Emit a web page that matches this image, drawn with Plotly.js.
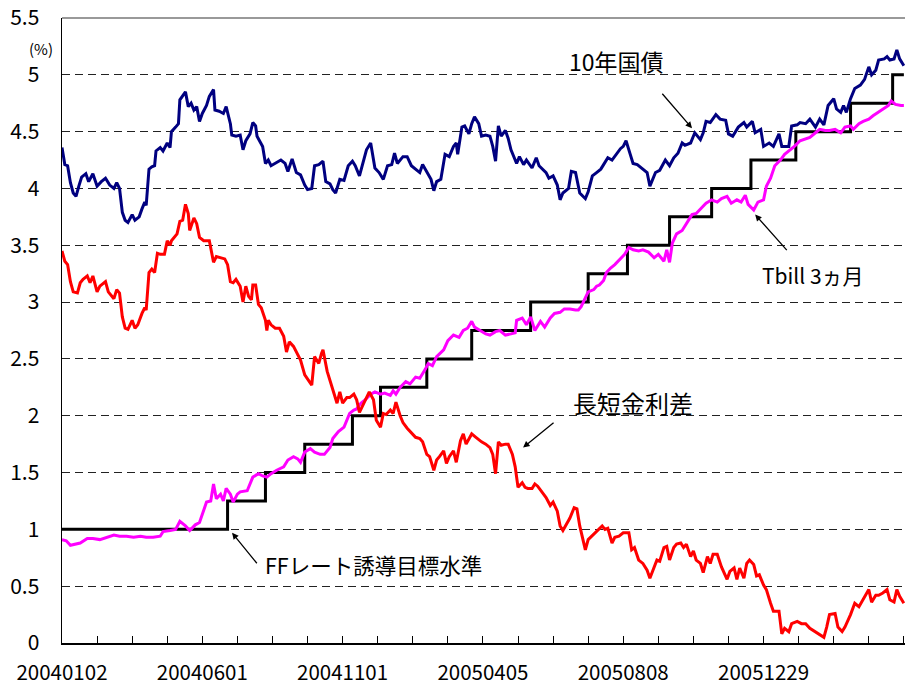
<!DOCTYPE html>
<html>
<head>
<meta charset="utf-8">
<script src="https://cdn.plot.ly/plotly-3.0.1.min.js"></script>
<style>
html,body{margin:0;padding:0;overflow:hidden;background:#fff;}
#chart{width:920px;height:686px;}
</style>
</head>
<body>
<div id="chart"></div>
<script>
// x = trading-day index from 2004-01-02
const tenDays = [0,2,4,6,8,10,12,14,17,19,22,25,28,31,34,37,39,41,43,45,47,50,52,55,57,59,60,62,64,66,67,70,72,75,77,78,81,83,84,86,88,90,92,94,96,98,100,103,105,108,109,112,115,117,120,121,124,127,129,131,134,136,138,139,141,143,145,147,149,152,154,156,159,161,164,165,167,170,173,175,178,180,183,186,188,191,193,195,198,201,204,207,209,212,214,217,220,223,226,229,232,235,237,239,243,246,249,252,255,257,260,263,265,267,270,273,276,279,281,282,285,287,290,292,294,297,299,302,305,307,309,311,313,316,318,320,324,326,329,331,335,338,340,345,347,350,353,355,357,361,363,366,369,373,375,378,381,384,386,389,392,395,398,400,402,405,407,410,414,417,419,423,426,430,433,436,439,442,444,448,451,455,457,459,462,466,469,473,475,478,482,486,488,492,494,498,500,504,507,511,513,516,518,520,524,526,530,533,537,540,543,546,550,552,555,557,559,562,565,569,572,575,577,580,582,586,588,590,593,595,597,600];
const tenYield = [4.36,4.21,4.20,4.05,3.96,3.93,4.02,4.10,4.13,4.06,4.13,4.02,4.06,4.09,4.03,4.00,4.05,4.00,3.79,3.72,3.70,3.77,3.72,3.75,3.82,3.88,3.85,4.17,4.19,4.20,4.33,4.36,4.33,4.40,4.36,4.50,4.54,4.57,4.78,4.81,4.85,4.72,4.75,4.69,4.72,4.59,4.66,4.73,4.81,4.87,4.69,4.68,4.66,4.72,4.57,4.47,4.46,4.47,4.34,4.42,4.48,4.58,4.55,4.46,4.42,4.37,4.22,4.25,4.20,4.22,4.23,4.25,4.22,4.15,4.26,4.22,4.14,4.12,4.03,3.99,4.00,4.20,4.21,4.24,4.06,4.04,3.99,3.96,4.08,4.07,4.20,4.24,4.20,4.11,4.20,4.34,4.40,4.18,4.14,4.08,4.20,4.21,4.31,4.22,4.28,4.28,4.20,4.17,4.14,4.21,4.14,4.08,3.98,4.06,4.08,4.30,4.28,4.37,4.40,4.30,4.54,4.55,4.48,4.57,4.63,4.57,4.46,4.47,4.46,4.37,4.24,4.55,4.46,4.51,4.44,4.34,4.22,4.28,4.21,4.25,4.18,4.27,4.20,4.14,4.09,4.11,4.03,3.90,3.96,4.00,4.15,4.14,3.96,3.91,3.97,4.11,4.14,4.17,4.21,4.27,4.25,4.30,4.35,4.37,4.42,4.30,4.22,4.21,4.17,4.14,4.02,4.14,4.16,4.25,4.20,4.27,4.31,4.40,4.38,4.40,4.49,4.43,4.49,4.59,4.58,4.65,4.61,4.60,4.48,4.46,4.54,4.58,4.54,4.59,4.49,4.52,4.37,4.40,4.37,4.48,4.37,4.37,4.37,4.55,4.56,4.58,4.57,4.61,4.54,4.61,4.56,4.73,4.79,4.70,4.67,4.73,4.67,4.79,4.88,4.91,4.96,5.07,5.00,5.04,5.13,5.14,5.16,5.13,5.14,5.22,5.14,5.08];

const tbDays = [0,3,6,9,13,18,22,27,32,37,41,46,51,56,60,65,70,72,77,81,84,88,91,95,98,101,103,106,108,110,113,115,117,120,122,125,127,132,134,136,140,143,146,149,153,158,161,165,168,170,173,177,180,184,187,191,193,197,201,203,205,208,210,213,216,220,223,227,230,234,236,238,241,245,248,252,255,259,261,264,267,272,275,279,283,286,289,292,294,298,302,305,309,312,316,320,323,324,328,331,334,337,341,344,348,351,355,358,362,366,368,370,373,375,379,381,383,386,388,391,394,398,401,404,407,411,414,418,422,425,429,431,433,435,438,442,445,449,452,456,459,463,467,470,474,477,481,484,487,489,493,496,500,502,505,508,512,515,519,522,526,529,533,537,540,544,547,551,555,558,562,564,568,571,575,578,582,586,589,591,594,598,600];
const tbRate = [0.91,0.90,0.86,0.87,0.88,0.92,0.92,0.91,0.93,0.95,0.94,0.94,0.93,0.94,0.93,0.93,0.94,0.98,0.99,1.00,1.07,1.03,0.99,1.04,1.06,1.16,1.24,1.25,1.40,1.27,1.31,1.25,1.36,1.31,1.24,1.31,1.33,1.34,1.41,1.46,1.49,1.47,1.46,1.49,1.52,1.55,1.61,1.64,1.62,1.59,1.68,1.71,1.68,1.66,1.66,1.72,1.80,1.86,1.90,1.96,2.02,2.05,2.06,2.11,2.14,2.19,2.21,2.19,2.20,2.18,2.22,2.19,2.25,2.30,2.28,2.34,2.33,2.41,2.46,2.44,2.52,2.58,2.66,2.71,2.69,2.75,2.77,2.83,2.78,2.75,2.72,2.71,2.74,2.75,2.71,2.72,2.73,2.84,2.86,2.80,2.87,2.75,2.83,2.78,2.86,2.90,2.91,2.94,2.94,2.93,2.93,2.96,3.03,3.09,3.11,3.14,3.15,3.19,3.26,3.30,3.33,3.38,3.42,3.48,3.46,3.45,3.46,3.44,3.39,3.42,3.36,3.46,3.35,3.52,3.60,3.63,3.69,3.77,3.78,3.83,3.87,3.90,3.88,3.91,3.93,3.87,3.90,3.88,3.94,3.86,3.81,3.88,3.90,4.02,4.09,4.20,4.25,4.30,4.34,4.37,4.42,4.43,4.45,4.49,4.52,4.51,4.51,4.52,4.49,4.54,4.55,4.52,4.57,4.59,4.61,4.64,4.67,4.70,4.73,4.77,4.74,4.73,4.73];

const spDays = [0,2,4,6,8,11,13,15,18,20,22,25,27,31,33,37,39,41,43,45,47,50,52,54,57,59,60,62,64,66,68,70,73,75,77,78,82,84,86,88,90,91,94,96,98,101,105,108,110,113,116,118,120,122,124,127,129,131,133,135,136,138,140,142,145,146,147,149,152,155,158,160,162,165,167,170,173,176,178,180,183,185,186,189,191,193,196,198,200,203,205,208,210,212,215,217,219,222,224,227,229,231,234,236,238,241,243,246,248,252,255,257,260,262,265,267,269,272,274,276,279,281,284,286,288,292,295,299,302,305,307,309,311,313,316,318,321,323,325,328,330,332,335,337,339,342,345,348,350,353,355,357,360,362,365,367,369,371,373,375,379,382,385,387,389,392,394,397,400,404,406,408,411,414,417,419,421,424,426,429,431,433,436,438,441,443,445,448,450,452,455,457,460,462,464,467,470,474,476,479,481,483,486,488,490,493,495,497,500,502,505,507,511,513,515,518,520,524,527,530,533,537,540,543,545,547,551,553,556,558,562,565,568,571,575,577,580,582,585,588,590,593,595,597,600];
const spread = [3.45,3.36,3.33,3.18,3.09,3.08,3.17,3.20,3.23,3.17,3.23,3.09,3.14,3.18,3.09,3.03,3.11,3.08,2.87,2.77,2.76,2.84,2.77,2.80,2.90,2.95,2.93,3.26,3.29,3.26,3.43,3.42,3.42,3.54,3.50,3.54,3.60,3.71,3.72,3.86,3.78,3.63,3.74,3.69,3.57,3.54,3.54,3.35,3.40,3.39,3.38,3.33,3.18,3.17,3.20,3.14,3.00,3.14,3.05,3.02,3.15,3.15,2.98,2.95,2.84,2.75,2.84,2.80,2.77,2.77,2.70,2.56,2.65,2.61,2.56,2.49,2.36,2.31,2.27,2.52,2.46,2.55,2.58,2.39,2.31,2.25,2.11,2.21,2.11,2.16,2.16,2.19,2.14,2.03,2.11,2.16,2.21,2.14,1.96,1.90,2.02,2.01,2.05,2.02,2.12,2.00,1.94,1.89,1.86,1.81,1.80,1.77,1.66,1.64,1.52,1.61,1.64,1.69,1.58,1.64,1.69,1.59,1.78,1.84,1.75,1.84,1.81,1.77,1.75,1.72,1.66,1.49,1.77,1.74,1.75,1.75,1.66,1.55,1.37,1.41,1.37,1.36,1.36,1.40,1.38,1.33,1.28,1.21,1.24,1.16,1.03,0.99,1.06,1.10,1.19,1.18,1.03,0.91,0.82,0.91,0.96,1.00,1.03,1.00,1.01,0.88,0.93,0.94,0.97,0.97,0.82,0.84,0.73,0.70,0.64,0.57,0.64,0.73,0.72,0.84,0.85,0.73,0.84,0.87,0.88,0.84,0.87,0.76,0.81,0.73,0.70,0.62,0.76,0.70,0.78,0.78,0.67,0.56,0.63,0.66,0.56,0.66,0.57,0.70,0.73,0.69,0.59,0.60,0.51,0.47,0.35,0.28,0.28,0.08,0.13,0.10,0.17,0.19,0.17,0.17,0.13,0.10,0.07,0.05,0.14,0.25,0.26,0.14,0.10,0.14,0.25,0.35,0.32,0.38,0.47,0.36,0.42,0.42,0.44,0.47,0.38,0.36,0.47,0.41,0.35];

const ffDays = [0,118,145,173,207,227,260,292,334,375,403,433,463,491,523,562,592,600];
const ffRate = [1.00,1.25,1.50,1.75,2.00,2.25,2.50,2.75,3.00,3.25,3.50,3.75,4.00,4.25,4.50,4.75,5.00,5.00];

const labelDays = [0,100,200,300,400,500];
const labelText = ['20040102','20040601','20041101','20050405','20050808','20051229'];
const tickStep = 25;
const lastDay = 600;

const tickVals = [], tickText = [];
for (let d = 0; d <= lastDay; d += tickStep) {
  tickVals.push(d);
  const i = labelDays.indexOf(d);
  tickText.push(i >= 0 ? labelText[i] : '');
}

const FONT = '"Noto Sans CJK JP", "Noto Sans", sans-serif';

const traces = [
  {x: ffDays, y: ffRate, type: 'scatter', mode: 'lines', line: {color: '#000000', width: 3, shape: 'hv'}, name: 'FFレート誘導目標水準'},
  {x: tbDays, y: tbRate, type: 'scatter', mode: 'lines', line: {color: '#FF00FF', width: 3}, name: 'Tbill 3ヵ月'},
  {x: spDays, y: spread, type: 'scatter', mode: 'lines', line: {color: '#FF0000', width: 3}, name: '長短金利差'},
  {x: tenDays, y: tenYield, type: 'scatter', mode: 'lines', line: {color: '#000080', width: 3}, name: '10年国債'}
];

function tf(size) { return {family: FONT, size: size, color: '#000'}; }
function arrow(x, y, ax, ay) {
  return {x: x, y: y, xref: 'x', yref: 'y', ax: ax, ay: ay, text: '', showarrow: true,
          arrowhead: 2, arrowsize: 1, arrowwidth: 1.3, arrowcolor: '#000', standoff: 0};
}
const annotations = [
  {x: 395, y: 5.12, xref: 'x', yref: 'y', text: '10年国債', showarrow: false, font: tf(23)},
  arrow(449, 4.53, -31, -36),
  {x: 535, y: 3.24, xref: 'x', yref: 'y', text: 'Tbill 3ヵ月', showarrow: false, font: tf(21)},
  arrow(494, 3.77, 33, 37),
  {x: 407, y: 2.12, xref: 'x', yref: 'y', text: '長短金利差', showarrow: false, font: tf(24)},
  arrow(328.6, 1.72, 32, -26),
  {x: 222, y: 0.69, xref: 'x', yref: 'y', text: 'FFレート誘導目標水準', showarrow: false, font: tf(21.5)},
  arrow(121.2, 0.97, 26, 32),
  {x: -0.0245, y: 5.23, xref: 'paper', yref: 'y', xanchor: 'center', yanchor: 'middle', text: '(%)', showarrow: false, font: tf(15)}
];

const layout = {
  width: 920, height: 686,
  margin: {l: 62, r: 0, t: 18, b: 43},
  paper_bgcolor: '#fff', plot_bgcolor: '#fff',
  showlegend: false,
  font: {family: FONT, color: '#000'},
  xaxis: {
    range: [0, 611.5], tickmode: 'array', tickvals: tickVals, ticktext: tickText,
    ticks: 'inside', ticklen: 7, tickwidth: 1, tickcolor: '#000',
    showgrid: false, zeroline: false, showline: true, linecolor: '#000', linewidth: 2,
    tickfont: tf(20.5), ticklabelstandoff: 10
  },
  yaxis: {
    range: [0, 5.5], dtick: 0.5, tick0: 0, ticks: '',
    showgrid: true, gridcolor: '#222', gridwidth: 1, griddash: '8px,5px',
    zeroline: false, showline: true, linecolor: '#000', linewidth: 1.5,
    tickfont: tf(21), ticklabelstandoff: 17
  },
  shapes: [
    {type: 'line', xref: 'paper', yref: 'paper', x0: 0, x1: 1, y0: 1, y1: 1, line: {color: '#999', width: 2}}
  ],
  annotations: annotations
};

Plotly.newPlot('chart', traces, layout, {staticPlot: true, displayModeBar: false});
</script>
</body>
</html>
